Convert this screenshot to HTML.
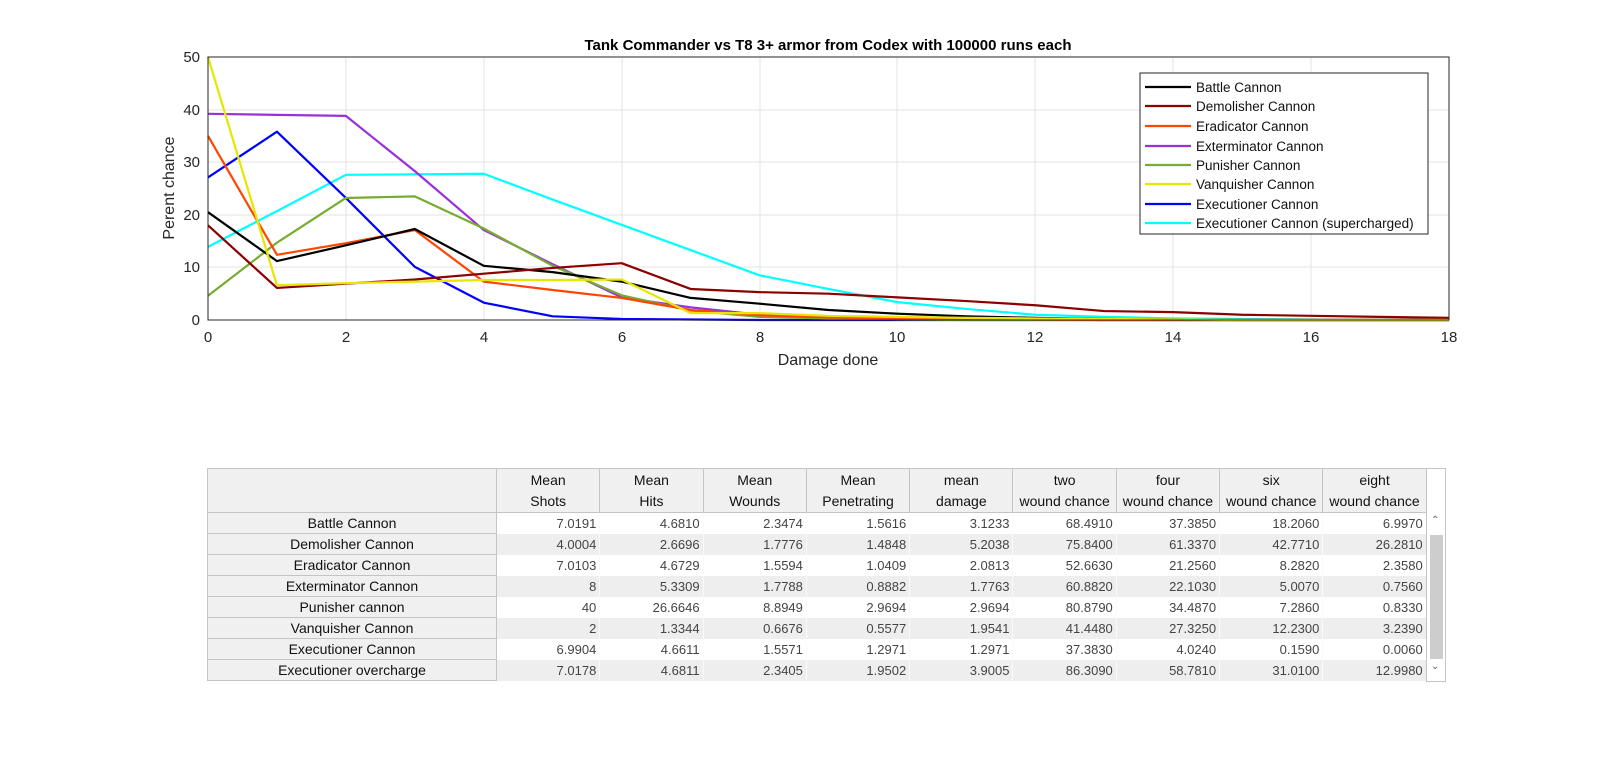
<!DOCTYPE html>
<html><head><meta charset="utf-8"><style>
body{margin:0;width:1600px;height:768px;background:#fff;position:relative;overflow:hidden;font-family:"Liberation Sans",sans-serif}
svg{position:absolute;left:0;top:0}
table{position:absolute;left:207px;top:468px;border-collapse:collapse;table-layout:fixed;font-size:13px}
td,th{padding:0 3px;height:20px;overflow:hidden;white-space:nowrap}
th{background:#f0f0f0;border:1px solid #c4c4c4;font-weight:normal;color:#111;font-size:14px}
thead th{height:43px;line-height:21px}
tbody th{text-align:center}
td{text-align:right;color:#444;border-right:1px solid #fafafa;background:#fff}
tr.a td{background:#eeeeee}
.sb{position:absolute;left:1426px;top:468px;width:20px;height:214px;background:#fff;border:1px solid #c4c4c4;box-sizing:border-box}
</style></head><body>
<svg width="1600" height="768" font-family="Liberation Sans, sans-serif">
<text x="828" y="50" text-anchor="middle" font-size="15" font-weight="bold">Tank Commander vs T8 3+ armor from Codex with 100000 runs each</text>
<g stroke="#e3e3e3" stroke-width="1">
<line x1="346" y1="57" x2="346" y2="320"/><line x1="484" y1="57" x2="484" y2="320"/><line x1="622" y1="57" x2="622" y2="320"/><line x1="760" y1="57" x2="760" y2="320"/><line x1="897" y1="57" x2="897" y2="320"/><line x1="1035" y1="57" x2="1035" y2="320"/><line x1="1173" y1="57" x2="1173" y2="320"/><line x1="1311" y1="57" x2="1311" y2="320"/>
<line x1="208" y1="110" x2="1449" y2="110"/><line x1="208" y1="162" x2="1449" y2="162"/><line x1="208" y1="215" x2="1449" y2="215"/><line x1="208" y1="267" x2="1449" y2="267"/>
</g>
<g fill="none" stroke-width="2.2" stroke-linejoin="round" transform="translate(208,320) scale(68.94,-5.26)">
<polyline vector-effect="non-scaling-stroke" stroke="#00ffff" points="0,13.9 1,20.7 2,27.6 3,27.7 4,27.8 5,22.9 6,18.1 7,13.3 8,8.5 9,5.9 10,3.4 11,2.1 12,1.0 13,0.6 14,0.3 15,0.2 16,0.1 17,0 18,0"/>
<polyline vector-effect="non-scaling-stroke" stroke="#0000ff" points="0,27.1 1,35.8 2,23.2 3,10.1 4,3.3 5,0.7 6,0.2 7,0.1 8,0 9,0 10,0 11,0 12,0 13,0 14,0 15,0 16,0 17,0 18,0"/>
<polyline vector-effect="non-scaling-stroke" stroke="#9b30d9" points="0,39.2 1,39.0 2,38.8 3,28.3 4,17.1 5,10.6 6,4.3 7,2.4 8,1.0 9,0.5 10,0.3 11,0.2 12,0.1 13,0 18,0"/>
<polyline vector-effect="non-scaling-stroke" stroke="#77ac30" points="0,4.6 1,14.7 2,23.2 3,23.5 4,17.4 5,10.3 6,4.7 7,1.8 8,0.6 9,0.3 10,0.1 11,0 18,0"/>
<polyline vector-effect="non-scaling-stroke" stroke="#ff4500" points="0,35 1,12.4 2,14.6 3,17.1 4,7.3 5,5.7 6,4.2 7,1.9 8,0.9 9,0.5 10,0.3 11,0.2 12,0.1 13,0 18,0"/>
<polyline vector-effect="non-scaling-stroke" stroke="#000000" points="0,20.5 1,11.2 2,14.2 3,17.3 4,10.3 5,9.1 6,7.3 7,4.2 8,3.1 9,1.9 10,1.2 11,0.7 12,0.4 13,0.2 14,0.1 15,0 18,0"/>
<polyline vector-effect="non-scaling-stroke" stroke="#8b0000" points="0,18 1,6.1 2,6.9 3,7.7 4,8.8 5,9.9 6,10.8 7,5.9 8,5.3 9,5.0 10,4.3 11,3.6 12,2.8 13,1.7 14,1.5 15,1.0 16,0.8 17,0.6 18,0.4"/>
<polyline vector-effect="non-scaling-stroke" stroke="#e6e600" points="0,50 1,6.6 2,7.0 3,7.3 4,7.6 5,7.6 6,7.7 7,1.3 8,1.3 9,0.8 10,0.6 11,0.4 12,0.3 13,0.2 14,0.1 15,0 18,0"/>
</g>
<rect x="208" y="57" width="1241" height="263" fill="none" stroke="#262626" stroke-width="1"/>
<g font-size="15" fill="#262626" text-anchor="middle">
<text x="208" y="342">0</text><text x="346" y="342">2</text><text x="484" y="342">4</text><text x="622" y="342">6</text><text x="760" y="342">8</text><text x="897" y="342">10</text><text x="1035" y="342">12</text><text x="1173" y="342">14</text><text x="1311" y="342">16</text><text x="1449" y="342">18</text>
</g>
<g font-size="15" fill="#262626" text-anchor="end">
<text x="200" y="325">0</text><text x="200" y="272">10</text><text x="200" y="220">20</text><text x="200" y="167">30</text><text x="200" y="115">40</text><text x="200" y="62">50</text>
</g>
<text x="828" y="365" text-anchor="middle" font-size="16" fill="#262626">Damage done</text>
<text transform="translate(174,188) rotate(-90)" text-anchor="middle" font-size="16" fill="#262626">Perent chance</text>
<rect x="1140" y="73" width="288" height="161" fill="#fff" stroke="#262626" stroke-width="1"/>
<g stroke-width="2.2">
<line x1="1145" y1="87" x2="1191" y2="87" stroke="#000"/>
<line x1="1145" y1="106" x2="1191" y2="106" stroke="#8b0000"/>
<line x1="1145" y1="126" x2="1191" y2="126" stroke="#ff4500"/>
<line x1="1145" y1="146" x2="1191" y2="146" stroke="#9b30d9"/>
<line x1="1145" y1="165" x2="1191" y2="165" stroke="#77ac30"/>
<line x1="1145" y1="184" x2="1191" y2="184" stroke="#e6e600"/>
<line x1="1145" y1="204" x2="1191" y2="204" stroke="#0000ff"/>
<line x1="1145" y1="223" x2="1191" y2="223" stroke="#00ffff"/>
</g>
<g font-size="13.5" fill="#111">
<text x="1196" y="92">Battle Cannon</text><text x="1196" y="111">Demolisher Cannon</text><text x="1196" y="131">Eradicator Cannon</text><text x="1196" y="151">Exterminator Cannon</text><text x="1196" y="170">Punisher Cannon</text><text x="1196" y="189">Vanquisher Cannon</text><text x="1196" y="209">Executioner Cannon</text><text x="1196" y="228">Executioner Cannon (supercharged)</text>
</g>
</svg>
<table>
<colgroup><col style="width:289px"><col span="9" style="width:103.3px"></colgroup>
<thead><tr><th></th><th>Mean<br>Shots</th><th>Mean<br>Hits</th><th>Mean<br>Wounds</th><th>Mean<br>Penetrating</th><th>mean<br>damage</th><th>two<br>wound chance</th><th>four<br>wound chance</th><th>six<br>wound chance</th><th>eight<br>wound chance</th></tr></thead>
<tbody>
<tr><th>Battle Cannon</th><td>7.0191</td><td>4.6810</td><td>2.3474</td><td>1.5616</td><td>3.1233</td><td>68.4910</td><td>37.3850</td><td>18.2060</td><td>6.9970</td></tr>
<tr class="a"><th>Demolisher Cannon</th><td>4.0004</td><td>2.6696</td><td>1.7776</td><td>1.4848</td><td>5.2038</td><td>75.8400</td><td>61.3370</td><td>42.7710</td><td>26.2810</td></tr>
<tr><th>Eradicator Cannon</th><td>7.0103</td><td>4.6729</td><td>1.5594</td><td>1.0409</td><td>2.0813</td><td>52.6630</td><td>21.2560</td><td>8.2820</td><td>2.3580</td></tr>
<tr class="a"><th>Exterminator Cannon</th><td>8</td><td>5.3309</td><td>1.7788</td><td>0.8882</td><td>1.7763</td><td>60.8820</td><td>22.1030</td><td>5.0070</td><td>0.7560</td></tr>
<tr><th>Punisher cannon</th><td>40</td><td>26.6646</td><td>8.8949</td><td>2.9694</td><td>2.9694</td><td>80.8790</td><td>34.4870</td><td>7.2860</td><td>0.8330</td></tr>
<tr class="a"><th>Vanquisher Cannon</th><td>2</td><td>1.3344</td><td>0.6676</td><td>0.5577</td><td>1.9541</td><td>41.4480</td><td>27.3250</td><td>12.2300</td><td>3.2390</td></tr>
<tr><th>Executioner Cannon</th><td>6.9904</td><td>4.6611</td><td>1.5571</td><td>1.2971</td><td>1.2971</td><td>37.3830</td><td>4.0240</td><td>0.1590</td><td>0.0060</td></tr>
<tr class="a"><th>Executioner overcharge</th><td>7.0178</td><td>4.6811</td><td>2.3405</td><td>1.9502</td><td>3.9005</td><td>86.3090</td><td>58.7810</td><td>31.0100</td><td>12.9980</td></tr>
</tbody></table>
<div class="sb"><div style="position:absolute;left:3px;top:66px;width:13px;height:124px;background:#cdcdcd"></div><div style="position:absolute;left:4px;top:46px;font-size:10px;color:#666">&#8963;</div><div style="position:absolute;left:4px;top:192px;font-size:10px;color:#666">&#8964;</div></div>
</body></html>
